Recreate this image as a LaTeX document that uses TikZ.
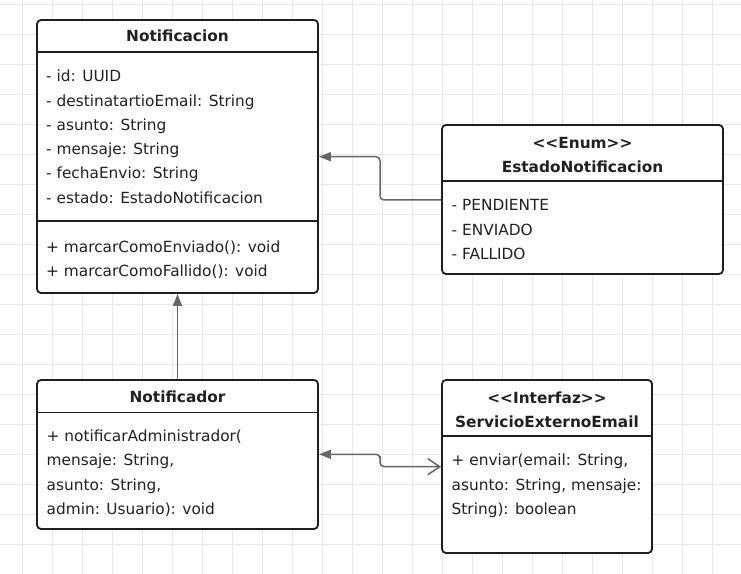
\documentclass[tikz,border=0pt]{standalone}
\usepackage{fontspec}
\setmainfont{DejaVu Sans}[Ligatures=TeXOff]
\usetikzlibrary{positioning,arrows.meta}
\definecolor{gridgray}{RGB}{232,232,232}
\definecolor{boxline}{RGB}{30,30,30}
\definecolor{linkgray}{RGB}{102,102,102}
\definecolor{txtgray}{RGB}{32,32,32}
\tikzset{
  umlbox/.style={draw=boxline,line width=1.8bp,rounded corners=4bp,fill=white,inner sep=0pt},
  divider/.style={draw=boxline,line width=1.4bp},
  ttl/.style={anchor=base,inner sep=0pt,text=txtgray,font=\fontsize{15.4}{18}\selectfont\bfseries},
  mem/.style={anchor=base west,inner sep=0pt,text=txtgray,font=\fontsize{15.4}{18}\selectfont},
  link/.style={draw=linkgray,line width=1.5bp,rounded corners=4bp},
  gridline/.style={draw=gridgray,line width=0.8bp},
  fulltip/.style={-{Triangle[length=12bp,width=9bp]}}
}

\begin{document}
\begin{tikzpicture}[x=1bp,y=-1bp]
  \useasboundingbox (0,0) rectangle (741,574);
  \fill[white] (0,0) rectangle (741,574);
  % background grid
  \foreach \gx in {0,...,24} \draw[gridline] (22.7+30*\gx,0) -- (22.7+30*\gx,574);
  \foreach \gy in {0,...,19} \draw[gridline] (0,4+30*\gy) -- (741,4+30*\gy);

  % Notificacion
  \node[umlbox,minimum width=281bp,minimum height=273bp] (notif) at (177.5,156.5) {};
  \draw[divider] (notif.west |- 0,52) -- (notif.east |- 0,52);
  \draw[divider] (notif.west |- 0,221) -- (notif.east |- 0,221);
  \node[ttl] (notifT) at (177.5,42) {Notificacion};
  \node[mem] (notifA1) at (46,82) {- id: UUID};
  \node[mem] (notifA2) at (46,106.3) {- destinatartioEmail: String};
  \node[mem] (notifA3) at (46,130.5) {- asunto: String};
  \node[mem] (notifA4) at (46,154.8) {- mensaje: String};
  \node[mem] (notifA5) at (46,179) {- fechaEnvio: String};
  \node[mem] (notifA6) at (46,203.3) {- estado: EstadoNotificacion};
  \node[mem] (notifM1) at (46,252.5) {+ marcarComoEnviado(): void};
  \node[mem] (notifM2) at (46,276) {+ marcarComoFallido(): void};

  % EstadoNotificacion
  \node[umlbox,minimum width=281bp,minimum height=149bp] (estado) at (582.5,199.5) {};
  \draw[divider] (estado.west |- 0,181) -- (estado.east |- 0,181);
  \node[ttl] (estadoS) at (582.5,148.3) {<<Enum>>};
  \node[ttl] (estadoT) at (582.5,172.3) {EstadoNotificacion};
  \node[mem] (estadoA1) at (451.5,210.7) {- PENDIENTE};
  \node[mem] (estadoA2) at (451.5,235) {- ENVIADO};
  \node[mem] (estadoA3) at (451.5,259) {- FALLIDO};

  % Notificador
  \node[umlbox,minimum width=281bp,minimum height=149bp] (notifr) at (177.5,454.5) {};
  \draw[divider] (notifr.west |- 0,412.3) -- (notifr.east |- 0,412.3);
  \node[ttl] (notifrT) at (177.5,402.3) {Notificador};
  \node[mem] (notifrM1) at (46.5,441.7) {+ notificarAdministrador(};
  \node[mem] (notifrM2) at (46.5,465.7) {mensaje: String,};
  \node[mem] (notifrM3) at (46.5,490) {asunto: String,};
  \node[mem] (notifrM4) at (46.5,514) {admin: Usuario): void};

  % ServicioExternoEmail
  \node[umlbox,minimum width=210bp,minimum height=173bp] (serv) at (547,466.5) {};
  \draw[divider] (serv.west |- 0,436) -- (serv.east |- 0,436);
  \node[ttl] (servS) at (547,403.3) {<<Interfaz>>};
  \node[ttl] (servT) at (547,427.3) {ServicioExternoEmail};
  \node[mem] (servM1) at (451.5,465.7) {+ enviar(email: String,};
  \node[mem] (servM2) at (451.5,490) {asunto: String, mensaje:};
  \node[mem] (servM3) at (451.5,514) {String): boolean};

  % connectors
  \draw[link,fulltip] (estado.west |- 0,200) -| (380,180) |- (notif.east |- 0,156.7);
  \draw[link,fulltip] (notifr.north) -- (notif.south);
  \draw[link,{Triangle[length=12bp,width=9bp]}-{Straight Barb[length=12bp,width=16bp]}]
    (notifr.east |- 0,454.3) -| (380,460) |- (serv.west |- 0,466.7);
\end{tikzpicture}
\end{document}
